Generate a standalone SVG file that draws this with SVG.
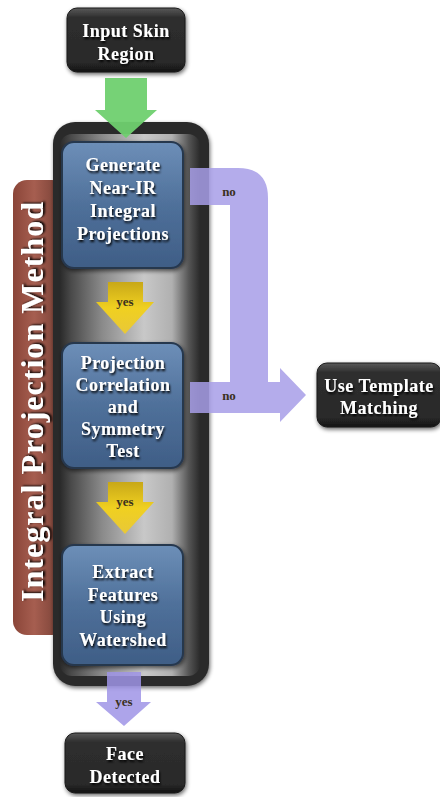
<svg xmlns="http://www.w3.org/2000/svg" width="440" height="797" viewBox="0 0 440 797">
<defs>
<linearGradient id="gDark" x1="0" y1="0" x2="0" y2="1">
<stop offset="0" stop-color="#5a5a5a"/><stop offset="0.15" stop-color="#2e2e2e"/><stop offset="0.85" stop-color="#2a2a2a"/><stop offset="1" stop-color="#111"/>
</linearGradient>
<linearGradient id="gBlue" x1="0" y1="0" x2="0" y2="1">
<stop offset="0" stop-color="#6d8fb8"/><stop offset="0.5" stop-color="#4f709a"/><stop offset="1" stop-color="#3f5e86"/>
</linearGradient>
<linearGradient id="gCont" x1="0" y1="0" x2="1" y2="0">
<stop offset="0" stop-color="#2a2a2a"/><stop offset="0.08" stop-color="#4a4a4a"/><stop offset="0.3" stop-color="#8a8a8a"/><stop offset="0.6" stop-color="#c8c8c8"/><stop offset="0.8" stop-color="#b0b0b0"/><stop offset="0.92" stop-color="#555"/><stop offset="1" stop-color="#2a2a2a"/>
</linearGradient>
<linearGradient id="gBrown" x1="0" y1="0" x2="1" y2="0">
<stop offset="0" stop-color="#8a4538"/><stop offset="0.4" stop-color="#a65e50"/><stop offset="1" stop-color="#6e3a30"/>
</linearGradient>
<linearGradient id="gYellow" x1="0" y1="0" x2="0" y2="1">
<stop offset="0" stop-color="#c8a818"/><stop offset="0.5" stop-color="#f0d020"/><stop offset="1" stop-color="#e8c838"/>
</linearGradient>
<filter id="sh" x="-20%" y="-20%" width="140%" height="140%">
<feGaussianBlur in="SourceAlpha" stdDeviation="2"/><feOffset dx="1" dy="2"/><feComponentTransfer><feFuncA type="linear" slope="0.6"/></feComponentTransfer><feMerge><feMergeNode/><feMergeNode in="SourceGraphic"/></feMerge>
</filter>
<filter id="tsh" x="-10%" y="-10%" width="120%" height="130%">
<feGaussianBlur in="SourceAlpha" stdDeviation="1"/><feOffset dx="1" dy="1.5"/><feMerge><feMergeNode/><feMergeNode in="SourceGraphic"/></feMerge>
</filter>
</defs>
<style>
.t{font-family:"Liberation Serif","Times New Roman",serif;font-weight:bold;font-size:18px;letter-spacing:0.5px;fill:#fff;text-anchor:middle;filter:url(#tsh)}
.s{font-family:"Liberation Serif","Times New Roman",serif;font-weight:bold;font-size:13px;fill:#3a3020;text-anchor:middle}
.dark{fill:url(#gDark);stroke:#1a1a1a;stroke-width:1}
.blue{fill:url(#gBlue);stroke:#26374e;stroke-width:2}
</style>
<rect width="440" height="797" fill="#fff"/>

<g id="method">
<rect x="13" y="180" width="53" height="455" rx="14" fill="url(#gBrown)"/>
<text class="t" transform="translate(43,402) rotate(-90)" style="font-size:32px;letter-spacing:0" textLength="400" lengthAdjust="spacing">Integral Projection Method</text>
</g>

<g id="container">
<rect x="53" y="122" width="156" height="564" rx="22" fill="#2c2c2c" filter="url(#sh)"/>
<rect x="60" y="134" width="140" height="542" rx="12" fill="url(#gCont)"/>
</g>

<g id="connectors">
<path d="M105 78 H147 V110 H157 L126 138 L95 110 H105 Z" fill="#6fd06f" opacity="0.95"/>
<path d="M108 282 H143 V302 H154 L125 334 L96 302 H108 Z" fill="url(#gYellow)"/>
<text class="s" x="125" y="306">yes</text>
<path d="M108 482 H143 V502 H154 L125 534 L96 502 H108 Z" fill="url(#gYellow)"/>
<text class="s" x="125" y="506">yes</text>
<path d="M107 672 H141 V702 H151 L124 726 L96 702 H107 Z" fill="#9f94e6" opacity="0.85"/>
<text class="s" x="124" y="706">yes</text>
<path d="M190 168 H238 Q268 168 268 198 V382 H280 V368 L306 395 L280 422 V413 H190 V382 H230 V205 H190 Z" fill="#a79ee8" opacity="0.85"/>
<text class="s" x="229" y="196">no</text>
<text class="s" x="229" y="400">no</text>
</g>

<g id="input">
<rect class="dark" x="67" y="8" width="118" height="64" rx="10" filter="url(#sh)"/>
<text class="t" x="126" y="37">Input Skin</text>
<text class="t" x="126" y="60">Region</text>
</g>

<g id="generate">
<rect class="blue" x="62" y="142" width="121" height="126" rx="12" filter="url(#sh)"/>
<text class="t" x="123" y="171">Generate</text>
<text class="t" x="123" y="194">Near-IR</text>
<text class="t" x="123" y="217">Integral</text>
<text class="t" x="123" y="240">Projections</text>
</g>

<g id="correlation">
<rect class="blue" x="62" y="343" width="121" height="125" rx="12" filter="url(#sh)"/>
<text class="t" x="123" y="369">Projection</text>
<text class="t" x="123" y="391">Correlation</text>
<text class="t" x="123" y="413">and</text>
<text class="t" x="123" y="435">Symmetry</text>
<text class="t" x="123" y="457">Test</text>
</g>

<g id="extract">
<rect class="blue" x="62" y="545" width="121" height="120" rx="12" filter="url(#sh)"/>
<text class="t" x="123" y="578">Extract</text>
<text class="t" x="123" y="601">Features</text>
<text class="t" x="123" y="623">Using</text>
<text class="t" x="123" y="646">Watershed</text>
</g>

<g id="template">
<rect class="dark" x="317" y="363" width="124" height="64" rx="10" filter="url(#sh)"/>
<text class="t" x="379" y="392">Use Template</text>
<text class="t" x="379" y="414">Matching</text>
</g>

<g id="face">
<rect class="dark" x="65" y="733" width="120" height="60" rx="10" filter="url(#sh)"/>
<text class="t" x="125" y="760">Face</text>
<text class="t" x="125" y="783">Detected</text>
</g>
</svg>
